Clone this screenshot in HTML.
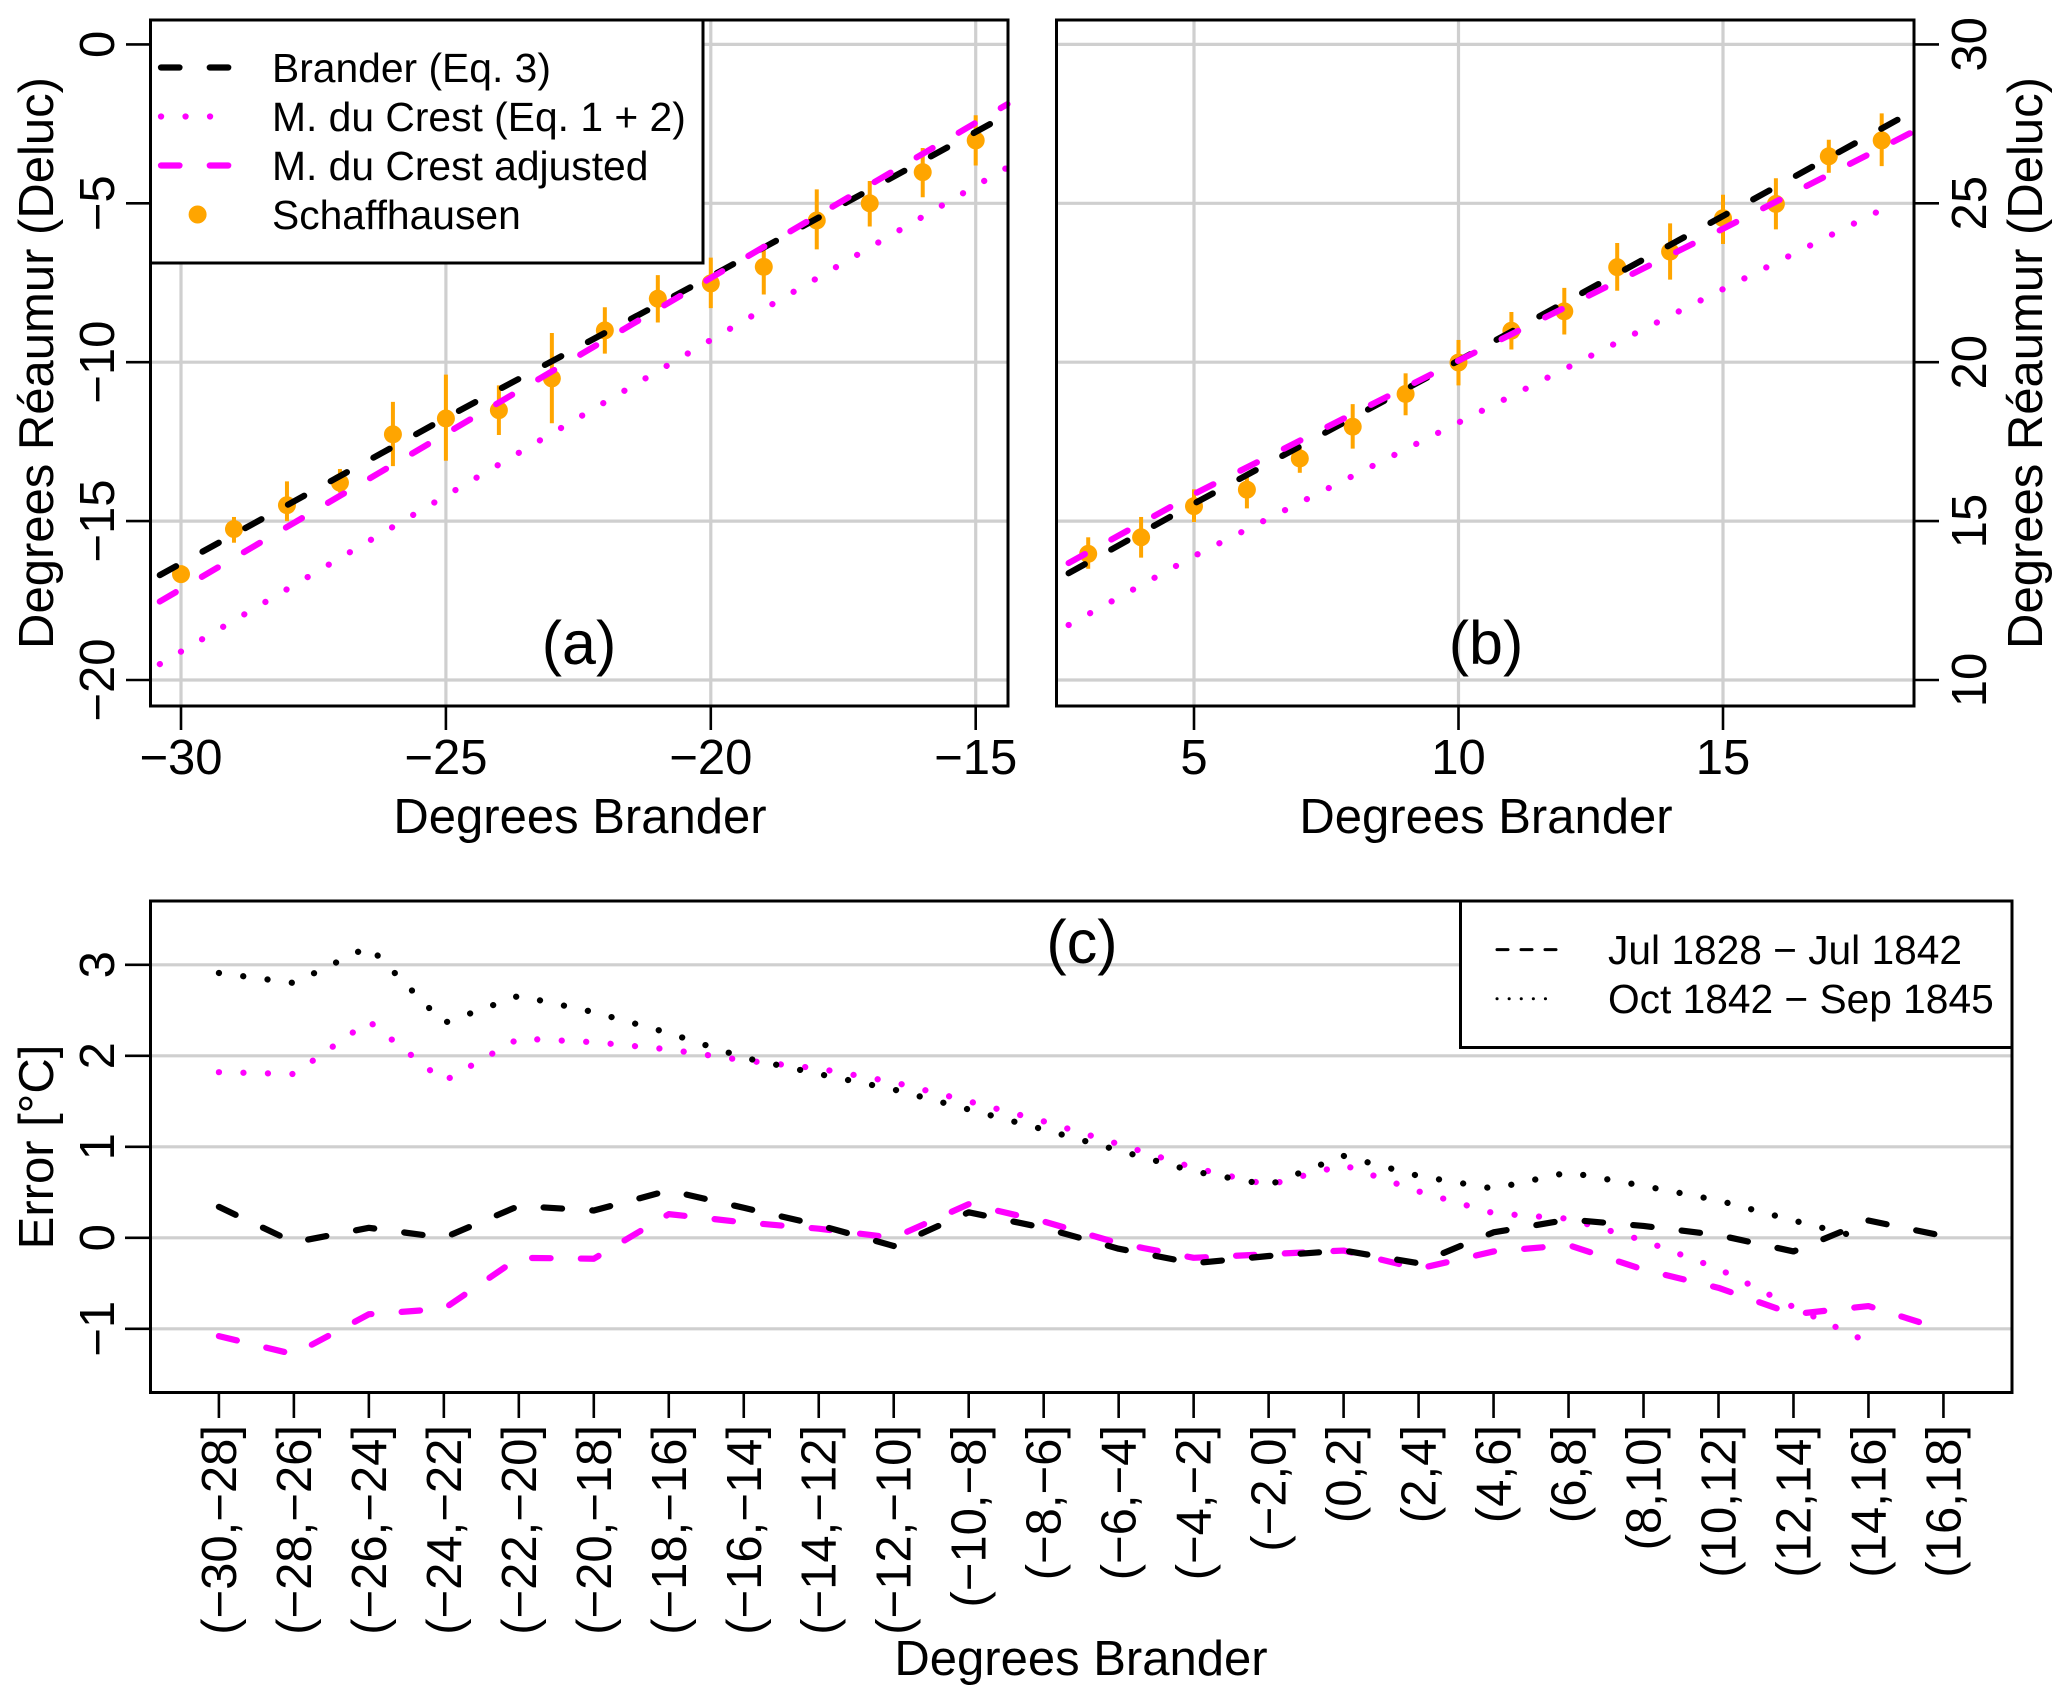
<!DOCTYPE html>
<html lang="en">
<head>
<meta charset="utf-8">
<title>Thermometer scale comparison</title>
<style>
html,body{margin:0;padding:0;background:#fff}
svg{display:block}
text{font-family:"Liberation Sans",Arial,sans-serif;fill:#000}
</style>
</head>
<body>
<svg id="fig" xmlns="http://www.w3.org/2000/svg" width="2067" height="1704" viewBox="0 0 2067 1704">
  <rect x="0" y="0" width="2067" height="1704" fill="#fff"/>
  <g id="panel-a"></g>
  <g id="panel-b"></g>
  <g id="panel-c"></g>
  <g id="annotations">
    <text x="580" y="833" font-size="49" text-anchor="middle">Degrees Brander</text>
    <text transform="translate(53,363) rotate(-90)" font-size="49" text-anchor="middle">Degrees Réaumur (Deluc)</text>
    <text x="579" y="664" font-size="61" text-anchor="middle">(a)</text>
    <text x="1486" y="833" font-size="49" text-anchor="middle">Degrees Brander</text>
    <text transform="translate(2042,363) rotate(-90)" font-size="49" text-anchor="middle">Degrees Réaumur (Deluc)</text>
    <text x="1486" y="664" font-size="61" text-anchor="middle">(b)</text>
    <text x="1081" y="1675" font-size="49" text-anchor="middle">Degrees Brander</text>
    <text transform="translate(53,1147) rotate(-90)" font-size="49" text-anchor="middle">Error [°C]</text>
    <text x="1082" y="963" font-size="61" text-anchor="middle">(c)</text>
  </g>
</svg>
<script>
/* Panel (a) data */
const aTickX = [-30, -25, -20, -15];
const aTickXLabels = ["\u221230", "\u221225", "\u221220", "\u221215"];
const aTickY = [-20, -15, -10, -5, 0];
const aTickYLabels = ["\u221220", "\u221215", "\u221210", "\u22125", "0"];
const aLineX = [-30.4, -25, -20, -14.5];
const aBrander = [-16.7, -11.75, -7.3, -2.3];
const aCrestX = [-30.4, -25, -20, -14.4];
const aCrestRaw = [-19.5, -14.2, -9.3, -3.87];
const aCrestAdjusted = [-17.53, -12.25, -7.35, -1.88];
const aObsX = [-30, -29, -28, -27, -26, -25, -24, -23, -22, -21, -20, -19, -18, -17, -16, -15];
const aObsMean = [-16.67, -15.25, -14.5, -13.79, -12.27, -11.77, -11.51, -10.51, -9.0, -8.0, -7.52, -7.0, -5.54, -5.0, -4.02, -3.02];
const aObsHigh = [-16.4, -14.87, -13.75, -13.36, -11.25, -10.39, -10.73, -9.08, -8.27, -7.26, -6.71, -6.28, -4.56, -4.3, -3.26, -2.23];
const aObsLow = [-16.9, -15.68, -15.0, -14.1, -13.27, -13.1, -12.29, -11.92, -9.73, -8.75, -8.3, -7.87, -6.45, -5.73, -4.81, -3.81];

/* Panel (b) data */
const bTickX = [5, 10, 15];
const bTickXLabels = ["5", "10", "15"];
const bTickY = [10, 15, 20, 25, 30];
const bTickYLabels = ["10", "15", "20", "25", "30"];
const bLineX = [2.63, 5, 10, 15, 18.4];
const bBrander = [13.36, 15.55, 20.05, 24.6, 27.72];
const bAdjustedX = [2.63, 5, 10, 15, 18.6];
const bCrestAdjusted = [13.68, 15.85, 20.05, 24.2, 27.26];
const bRawX = [2.63, 5, 10, 15, 18.3];
const bCrestRaw = [11.73, 13.9, 18.1, 22.3, 25.05];
const bObsX = [3, 4, 5, 6, 7, 8, 9, 10, 11, 12, 13, 14, 15, 16, 17, 18];
const bObsMean = [13.97, 14.49, 15.47, 15.99, 16.97, 17.97, 19.0, 19.99, 20.99, 21.6, 22.99, 23.48, 24.53, 24.98, 26.48, 26.98];
const bObsHigh = [14.49, 15.13, 16.0, 16.5, 17.33, 18.68, 19.65, 20.7, 21.58, 22.34, 23.75, 24.37, 25.27, 25.79, 27.0, 27.83];
const bObsLow = [13.5, 13.85, 14.97, 15.4, 16.52, 17.28, 18.33, 19.27, 20.4, 20.87, 22.25, 22.6, 23.72, 24.18, 25.96, 26.17];

/* Panel (c) data */
const cCategories = ["(\u221230,\u221228]", "(\u221228,\u221226]", "(\u221226,\u221224]", "(\u221224,\u221222]", "(\u221222,\u221220]", "(\u221220,\u221218]", "(\u221218,\u221216]", "(\u221216,\u221214]", "(\u221214,\u221212]", "(\u221212,\u221210]", "(\u221210,\u22128]", "(\u22128,\u22126]", "(\u22126,\u22124]", "(\u22124,\u22122]", "(\u22122,0]", "(0,2]", "(2,4]", "(4,6]", "(6,8]", "(8,10]", "(10,12]", "(12,14]", "(14,16]", "(16,18]"];
const cTickY = [-1, 0, 1, 2, 3];
const cTickYLabels = ["\u22121", "0", "1", "2", "3"];
const cBranderEarly = [0.34, -0.05, 0.11, 0, 0.35, 0.30, 0.52, 0.33, 0.14, -0.09, 0.28, 0.11, -0.12, -0.28, -0.2, -0.14, -0.28, 0.06, 0.2, 0.13, 0.03, -0.15, 0.19, 0.02];
const cCrestEarly = [-1.08, -1.28, -0.84, -0.78, -0.22, -0.23, 0.26, 0.17, 0.1, 0, 0.37, 0.18, -0.06, -0.22, -0.18, -0.14, -0.34, -0.15, -0.08, -0.35, -0.55, -0.84, -0.75, -1.01];
const cBranderLate = [2.91, 2.80, 3.2, 2.36, 2.66, 2.48, 2.25, 1.98, 1.80, 1.63, 1.41, 1.19, 0.96, 0.73, 0.58, 0.90, 0.68, 0.54, 0.72, 0.57, 0.41, 0.19, -0.02];
const cCrestLate = [1.82, 1.80, 2.38, 1.72, 2.19, 2.15, 2.07, 1.95, 1.86, 1.71, 1.50, 1.28, 1.03, 0.77, 0.58, 0.80, 0.51, 0.27, 0.21, -0.03, -0.34, -0.76, -1.15];

/* Legends */
const aLegendLabels = ["Brander (Eq. 3)", "M. du Crest (Eq. 1 + 2)", "M. du Crest adjusted", "Schaffhausen"];
const cLegendLabels = ["Jul 1828 \u2212 Jul 1842", "Oct 1842 \u2212 Sep 1845"];

const NS = "http://www.w3.org/2000/svg";
const BLACK = "#000", MAGENTA = "#ff00ff", ORANGE = "#ffa500", GRID = "#cfcfcf";
const DASH = "18.5 30.25", DOT = "0.1 24.4", LINE_W = 6.2;

/* Axis functions */
const ax = v => 181 + (v + 30) * 52.98;
const ay = v => 44.4 - v * 31.78;
const bx = v => 1194 + (v - 5) * 52.9;
const by = v => 680 - (v - 10) * 31.78;
const cx = i => 218.9 + i * 74.98;
const cy = v => 1237.8 - v * 91;

function seg(parent, x1, y1, x2, y2, stroke, width, name) {
  const el = document.createElementNS(NS, "line");
  el.setAttribute("x1", x1);
  el.setAttribute("y1", y1);
  el.setAttribute("x2", x2);
  el.setAttribute("y2", y2);
  el.setAttribute("stroke", stroke);
  el.setAttribute("stroke-width", width);
  
  
  parent.appendChild(el);
  return el;
}
function box(parent, x, y, w, h, fill, stroke, width, name) {
  const el = document.createElementNS(NS, "rect");
  el.setAttribute("x", x);
  el.setAttribute("y", y);
  el.setAttribute("width", w);
  el.setAttribute("height", h);
  el.setAttribute("fill", fill);
  el.setAttribute("stroke", stroke);
  el.setAttribute("stroke-width", width);
  
  
  parent.appendChild(el);
  return el;
}
function label(parent, str, x, y, size, anchor, rotate, name) {
  const el = document.createElementNS(NS, "text");
  el.textContent = str;
  el.setAttribute("font-size", size);
  el.setAttribute("text-anchor", anchor);
  if (rotate) {
    el.setAttribute("transform", "translate(" + x + "," + y + ") rotate(-90)");
  } else {
    el.setAttribute("x", x);
    el.setAttribute("y", y);
  }
  
  
  parent.appendChild(el);
  return el;
}
function series(parent, pts, stroke, width, dash, name) {
  const el = document.createElementNS(NS, "polyline");
  el.setAttribute("points", pts.map(p => p[0].toFixed(2) + "," + p[1].toFixed(2)).join(" "));
  el.setAttribute("fill", "none");
  el.setAttribute("stroke", stroke);
  el.setAttribute("stroke-width", width);
  el.setAttribute("stroke-dasharray", dash);
  el.setAttribute("stroke-linecap", "round");
  el.setAttribute("stroke-linejoin", "round");
  
  
  parent.appendChild(el);
  return el;
}
function dot(parent, x, y, r, name) {
  const el = document.createElementNS(NS, "circle");
  el.setAttribute("cx", x);
  el.setAttribute("cy", y);
  el.setAttribute("r", r);
  el.setAttribute("fill", ORANGE);
  
  
  parent.appendChild(el);
  return el;
}
const zip = (xs, ys, fx, fy) => ys.map((v, i) => [fx(xs[i]), fy(v)]);

const L = 150.5, R = 1008, T = 20, B = 706;
const L2 = 1056.5, R2 = 1914;
const CT = 901, CB = 1392.5, CR = 2012;

/* Panel a */
const pa = document.getElementById("panel-a");
aTickY.forEach(v => seg(pa, L, ay(v), R, ay(v), GRID, 3.2, "grid-line-y"));
aTickX.forEach(v => seg(pa, ax(v), T, ax(v), B, GRID, 3.2, "grid-line-x"));
aObsX.forEach((x, i) => {
  seg(pa, ax(x), ay(aObsLow[i]), ax(x), ay(aObsHigh[i]), ORANGE, 4, "schaffhausen-error-bar");
  dot(pa, ax(x), ay(aObsMean[i]), 9, "schaffhausen-point");
});
series(pa, zip(aLineX, aBrander, ax, ay), BLACK, LINE_W, DASH, "brander-line");
series(pa, zip(aCrestX, aCrestRaw, ax, ay), MAGENTA, LINE_W, DOT, "crest-line");
series(pa, zip(aCrestX, aCrestAdjusted, ax, ay), MAGENTA, LINE_W, DASH, "crest-adjusted-line");
box(pa, L, T, 552.5, 243, "#fff", BLACK, 3, "legend-box");
series(pa, [[161, 67.5], [232, 67.5]], BLACK, LINE_W, DASH, "legend-key-brander");
series(pa, [[161, 116.5], [214, 116.5]], MAGENTA, LINE_W, DOT, "legend-key-crest");
series(pa, [[161, 165.5], [232, 165.5]], MAGENTA, LINE_W, DASH, "legend-key-crest-adjusted");
dot(pa, 197.6, 214.5, 9, "legend-key-schaffhausen");
aLegendLabels.forEach((s, i) => label(pa, s, 272, 82 + i * 49, 40.8, "start", false, "legend-entry"));
box(pa, L, T, R - L, B - T, "none", BLACK, 3, "panel-a-frame");
aTickX.forEach((v, i) => {
  seg(pa, ax(v), B, ax(v), 730, BLACK, 2.6, "x-tick");
  label(pa, aTickXLabels[i], ax(v), 774, 49, "middle", false, "x-tick-label");
});
aTickY.forEach((v, i) => {
  seg(pa, 126, ay(v), L, ay(v), BLACK, 2.6, "y-tick");
  label(pa, aTickYLabels[i], 114, ay(v), 49, "middle", true, "y-tick-label");
});

/* Panel b */
const pb = document.getElementById("panel-b");
bTickY.forEach(v => seg(pb, L2, by(v), R2, by(v), GRID, 3.2, "grid-line-y"));
bTickX.forEach(v => seg(pb, bx(v), T, bx(v), B, GRID, 3.2, "grid-line-x"));
bObsX.forEach((x, i) => {
  seg(pb, bx(x), by(bObsLow[i]), bx(x), by(bObsHigh[i]), ORANGE, 4, "schaffhausen-error-bar");
  dot(pb, bx(x), by(bObsMean[i]), 9, "schaffhausen-point");
});
series(pb, zip(bLineX, bBrander, bx, by), BLACK, LINE_W, DASH, "brander-line");
series(pb, zip(bRawX, bCrestRaw, bx, by), MAGENTA, LINE_W, DOT, "crest-line");
series(pb, zip(bAdjustedX, bCrestAdjusted, bx, by), MAGENTA, LINE_W, DASH, "crest-adjusted-line");
box(pb, L2, T, R2 - L2, B - T, "none", BLACK, 3, "panel-b-frame");
bTickX.forEach((v, i) => {
  seg(pb, bx(v), B, bx(v), 730, BLACK, 2.6, "x-tick");
  label(pb, bTickXLabels[i], bx(v), 774, 49, "middle", false, "x-tick-label");
});
bTickY.forEach((v, i) => {
  seg(pb, R2, by(v), 1939, by(v), BLACK, 2.6, "y-tick");
  label(pb, bTickYLabels[i], 1986, by(v), 49, "middle", true, "y-tick-label");
});

/* Panel c */
const pc = document.getElementById("panel-c");
const idx = arr => arr.map((_, i) => i);
cTickY.forEach(v => seg(pc, L, cy(v), CR, cy(v), GRID, 3.2, "grid-line-y"));
series(pc, zip(idx(cCrestEarly), cCrestEarly, cx, cy), MAGENTA, LINE_W, DASH, "crest-early-line");
series(pc, zip(idx(cCrestLate), cCrestLate, cx, cy), MAGENTA, LINE_W, DOT, "crest-late-line");
series(pc, zip(idx(cBranderEarly), cBranderEarly, cx, cy), BLACK, LINE_W, DASH, "brander-early-line");
series(pc, zip(idx(cBranderLate), cBranderLate, cx, cy), BLACK, LINE_W, DOT, "brander-late-line");
box(pc, 1460.5, CT, CR - 1460.5, 1047.5 - CT, "#fff", BLACK, 3, "period-legend-box");
series(pc, [[1497, 949.6], [1557, 949.6]], BLACK, 3, "11 13", "period-legend-key-early");
series(pc, [[1497, 998.8], [1557, 998.8]], BLACK, 3, "0.1 12", "period-legend-key-late");
cLegendLabels.forEach((s, i) => label(pc, s, 1608, 964 + i * 49, 40.7, "start", false, "period-legend-entry"));
box(pc, L, CT, CR - L, CB - CT, "none", BLACK, 3, "panel-c-frame");
cCategories.forEach((s, i) => {
  seg(pc, cx(i), CB, cx(i), 1418, BLACK, 2.6, "x-tick");
  label(pc, s, cx(i) + 17, 1425, 49, "end", true, "category-label");
});
cTickY.forEach((v, i) => {
  seg(pc, 125, cy(v), L, cy(v), BLACK, 2.6, "y-tick");
  label(pc, cTickYLabels[i], 114, cy(v), 49, "middle", true, "y-tick-label");
});
</script>
</body>
</html>
